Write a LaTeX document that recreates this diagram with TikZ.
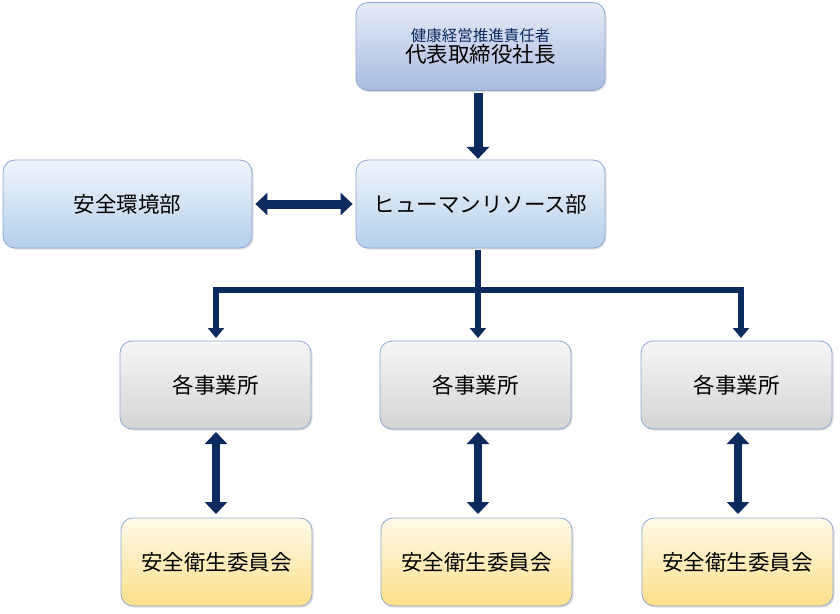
\documentclass[tikz,border=0pt]{standalone}
\usepackage{fontspec}
\setmainfont{Noto Sans CJK JP}
\usetikzlibrary{arrows.meta,shadows}
\definecolor{navy}{HTML}{0B2A5E}
\definecolor{bdr}{HTML}{8EA6D2}
\definecolor{blueT}{HTML}{F0F5FB}
\definecolor{blueB}{HTML}{B5CFEB}
\definecolor{topT}{HTML}{E6ECF7}
\definecolor{topB}{HTML}{A9BAE0}
\definecolor{grayT}{HTML}{F6F6F6}
\definecolor{grayB}{HTML}{D4D4D4}
\definecolor{yelT}{HTML}{FFFBEA}
\definecolor{yelB}{HTML}{FDDF8A}
\begin{document}
\begin{tikzpicture}[x=1pt,y=-1pt,
  box/.style={rounded corners=12pt, draw=bdr, line width=0.8pt, minimum width=#1, minimum height=88pt, inner sep=0pt, font=\fontsize{21.5}{24}\selectfont, drop shadow={opacity=0.25,shadow xshift=1.5pt,shadow yshift=-1.5pt}},
  box/.default=249pt,
  bluebox/.style={box, top color=blueT, bottom color=blueB},
  topbox/.style={box, top color=topT, bottom color=topB},
  graybox/.style={box=191pt, top color=grayT, bottom color=grayB},
  yelbox/.style={box=191pt, top color=yelT, bottom color=yelB},
  arr/.style={navy, line width=9pt, -{Triangle[width=22pt,length=12pt]}},
  darr/.style={navy, line width=9pt, {Triangle[width=22pt,length=12pt]}-{Triangle[width=22pt,length=12pt]}},
  tarr/.style={navy, line width=6pt, -{Triangle[width=16pt,length=10pt]}}
]
\useasboundingbox (0,0) rectangle (840,613);
\node[topbox, align=center] (ceo) at (480.5,46.5) {{\fontsize{15.5}{18}\selectfont\color{navy}健康経営推進責任者}\\[-3pt]代表取締役社長};
\node[bluebox] (hr) at (480.5,204) {ヒューマンリソース部};
\node[bluebox] (env) at (127.5,204) {安全環境部};
\node[graybox] (s1) at (215.5,385) {各事業所};
\node[graybox] (s2) at (475.5,385) {各事業所};
\node[graybox] (s3) at (736.5,385) {各事業所};
\node[yelbox] (c1) at (216.5,562) {安全衛生委員会};
\node[yelbox] (c2) at (476.5,562) {安全衛生委員会};
\node[yelbox] (c3) at (737.5,562) {安全衛生委員会};
\draw[arr] (ceo.south -| 478,0) ++(0,2) -- ++(0,66);
\draw[darr] ([xshift=3pt]env.east) -- ([xshift=-3pt]hr.west);
\coordinate (j) at (478,290);
\draw[navy, line width=6pt] (478,250) -- (j);
\draw[tarr] (j) -- (478,338);
\draw[tarr] (j) -| (216,338);
\draw[tarr] (j) -| (741,338);
\foreach \i/\x in {1/216,2/478,3/738}{
  \draw[darr, line width=8pt] (\x,432) -- (\x,514);
}
\end{tikzpicture}
\end{document}
